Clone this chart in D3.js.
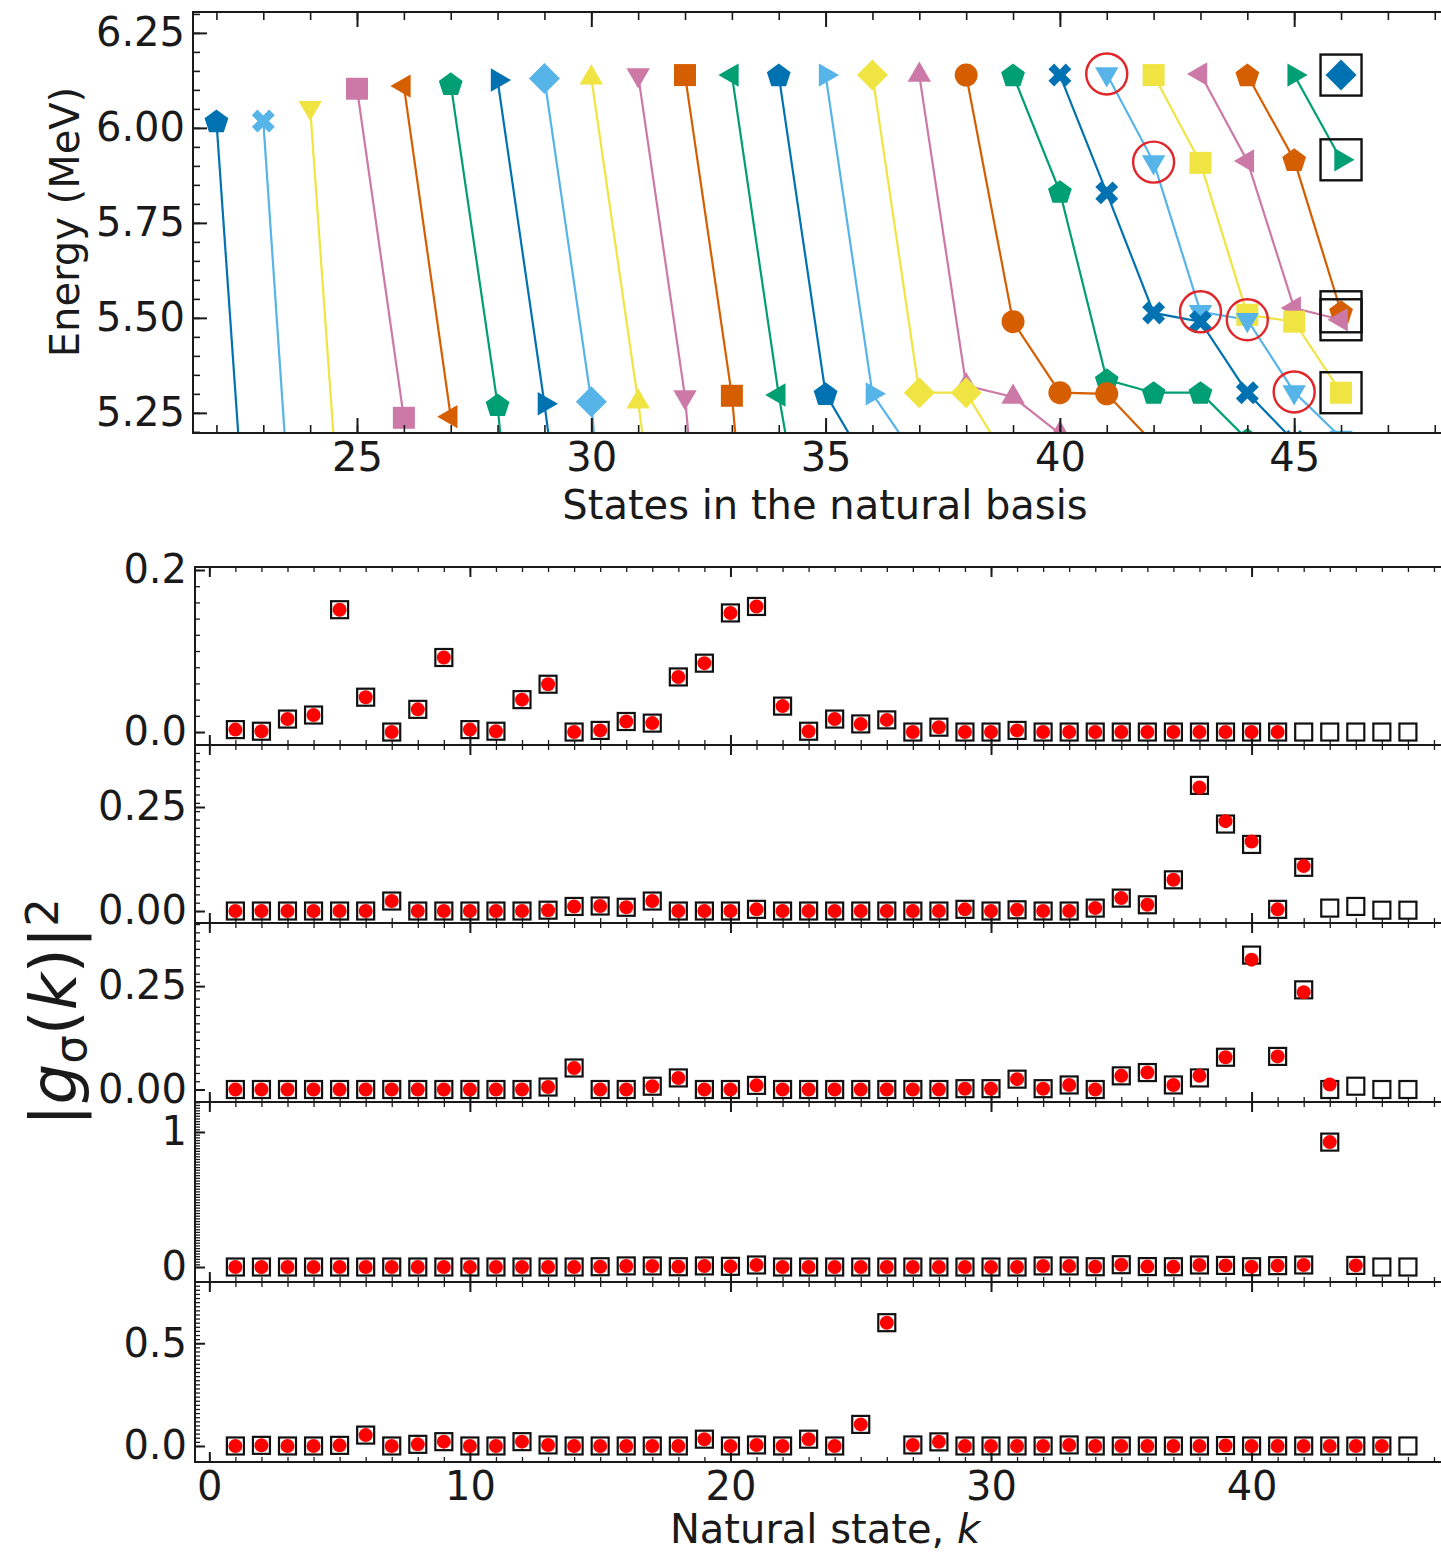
<!DOCTYPE html>
<html>
<head>
<meta charset="utf-8">
<script src="https://cdn.jsdelivr.net/npm/d3@7"></script>
<style>
  html, body { margin: 0; background: #fff; }
  svg { display: block; font-family: "DejaVu Sans", sans-serif; }
</style>
</head>
<body>
<svg id="chart" width="1441" height="1553"></svg>
<script>
// ---------------- Energy levels vs. natural-basis states ----------------
// Each level starts at a state and its energy is followed state by state to the right.
const levelStartState = [22, 23, 24, 25, 26, 27, 28, 29, 30, 31, 32, 33, 34,
                         35, 36, 37, 38, 39, 40, 41, 42, 43, 44, 45, 46];
const levelEnergies = [
  [6.018, 4.25],
  [6.018, 4.21],
  [6.053, 4.32],
  [6.103, 5.237],
  [6.110, 5.240],
  [6.116, 5.271, 3.93],
  [6.126, 5.274, 4.34],
  [6.130, 5.279, 3.80],
  [6.132, 5.279, 4.35],
  [6.139, 5.292, 3.90],
  [6.139, 5.295, 3.94],
  [6.139, 5.297, 4.59],
  [6.139, 5.300, 5.09],
  [6.139, 5.300, 5.12],
  [6.139, 5.303, 5.303, 5.10],
  [6.139, 5.322, 5.292, 5.195],
  [6.139, 5.490, 5.303, 5.300, 5.17],
  [6.139, 5.832, 5.337, 5.303, 5.303, 5.18],
  [6.139, 5.829, 5.513, 5.490, 5.303, 5.175],
  [6.142, 5.910, 5.516, 5.495, 5.305, 5.185],
  [6.139, 5.908, 5.508, 5.490, 5.303],
  [6.142, 5.913, 5.526, 5.495],
  [6.139, 5.916, 5.516],
  [6.139, 5.916],
  [6.139]
];
const levelMarkers = ["pentagon", "x", "triDown", "square", "triLeft", "pentagon",
  "triRight", "diamond", "triUp", "triDown", "square", "triLeft", "pentagon",
  "triRight", "diamond", "triUp", "circle", "pentagon", "x", "triDown", "square",
  "triLeft", "pentagon", "triRight", "diamond"];
const palette = ["#0072B2", "#56B4E9", "#F0E442", "#CC79A7", "#D55E00", "#009E73"];
const ringedLevelStart = 41;   // level whose points are ringed in red
const boxedState = 46;         // state whose points are boxed
const energyTicks = [5.25, 5.50, 5.75, 6.00, 6.25];
const stateTicks = [25, 30, 35, 40, 45];

// ---------------- |g_sigma(k)|^2 for five eigenstates ----------------
// exactN: open squares (k = 1..46); approxN: red dots (k = 1..len)
const exact1 = [0.003, 0.001, 0.016, 0.021, 0.151, 0.043, 0.000, 0.028, 0.092, 0.003,
                0.001, 0.040, 0.059, 0.000, 0.002, 0.013, 0.011, 0.068, 0.085, 0.147,
                0.155, 0.032, 0.001, 0.016, 0.010, 0.015, 0.000, 0.006, 0.000, 0.000,
                0.002, 0.000, 0.000, 0.000, 0.000, 0.000, 0.000, 0.000, 0.000, 0.000,
                0.000, 0.000, 0.000, 0.000, 0.000, 0.000];
const approx1 = [0.003, 0.001, 0.016, 0.021, 0.151, 0.043, 0.000, 0.028, 0.092, 0.003,
                 0.001, 0.040, 0.059, 0.000, 0.002, 0.013, 0.011, 0.068, 0.085, 0.147,
                 0.155, 0.032, 0.001, 0.016, 0.010, 0.015, 0.000, 0.006, 0.000, 0.000,
                 0.002, 0.000, 0.000, 0.000, 0.000, 0.000, 0.000, 0.000, 0.000, 0.000,
                 0.000];
const exact2 = [0, 0, 0, 0, 0, 0, 0.024, 0, 0, 0,
                0, 0, 0.002, 0.011, 0.012, 0.009, 0.024, 0, 0, 0,
                0.004, 0, 0, 0, 0, 0, 0, 0, 0.004, 0,
                0.003, 0, 0, 0.007, 0.031, 0.015, 0.075, 0.302, 0.209, 0.160,
                0.004, 0.105, 0.007, 0.011, 0.002, 0.002];
const approx2 = [0, 0, 0, 0, 0, 0, 0.024, 0, 0, 0,
                 0, 0, 0.002, 0.011, 0.012, 0.009, 0.024, 0, 0, 0,
                 0.004, 0, 0, 0, 0, 0, 0, 0, 0.004, 0,
                 0.003, 0, 0, 0.007, 0.031, 0.015, 0.075, 0.297, 0.216, 0.167,
                 0.004, 0.108];
const exact3 = [0, 0, 0, 0, 0, 0, 0, 0, 0, 0,
                0, 0, 0.006, 0.052, 0, 0, 0.008, 0.028, 0, 0,
                0.010, 0, 0, 0, 0, 0, 0, 0, 0.002, 0.002,
                0.025, 0.002, 0.011, 0, 0.033, 0.041, 0.011, 0.028, 0.078, 0.325,
                0.080, 0.241, 0.000, 0.008, 0, 0];
const approx3 = [0, 0, 0, 0, 0, 0, 0, 0, 0, 0,
                 0, 0, 0.006, 0.052, 0, 0, 0.008, 0.028, 0, 0,
                 0.010, 0, 0, 0, 0, 0, 0, 0, 0.002, 0.002,
                 0.025, 0.002, 0.011, 0, 0.033, 0.041, 0.011, 0.033, 0.078, 0.314,
                 0.080, 0.235, 0.012];
const exact4 = [0, 0, 0, 0, 0, 0, 0, 0, 0, 0,
                0, 0, 0, 0, 0.002, 0.008, 0.008, 0.002, 0.008, 0.005,
                0.015, 0, 0, 0, 0, 0, 0, 0, 0, 0,
                0, 0.008, 0.008, 0.002, 0.017, 0.003, 0.002, 0.015, 0.012, 0.002,
                0.010, 0.015, 0.925, 0.012, 0, 0];
const approx4 = [0, 0, 0, 0, 0, 0, 0, 0, 0, 0,
                 0, 0, 0, 0, 0.002, 0.008, 0.008, 0.002, 0.008, 0.005,
                 0.015, 0, 0, 0, 0, 0, 0, 0, 0, 0,
                 0, 0.008, 0.008, 0.002, 0.017, 0.003, 0.002, 0.015, 0.012, 0.002,
                 0.010, 0.015, 0.925, 0.012];
const exact5 = [0, 0.003, 0, 0, 0.003, 0.053, 0, 0.008, 0.021, 0,
                0, 0.021, 0.005, 0, 0, 0, 0, 0, 0.033, 0,
                0.005, 0, 0.033, 0, 0.105, 0.600, 0.005, 0.020, 0, 0,
                0, 0, 0.005, 0, 0, 0, 0, 0, 0.002, 0,
                0, 0, 0, 0, 0, 0];
const approx5 = [0, 0.003, 0, 0, 0.003, 0.053, 0, 0.008, 0.021, 0,
                 0, 0.021, 0.005, 0, 0, 0, 0, 0, 0.033, 0,
                 0.005, 0, 0.033, 0, 0.105, 0.600, 0.005, 0.020, 0, 0,
                 0, 0, 0.005, 0, 0, 0, 0, 0, 0.002, 0,
                 0, 0, 0, 0, 0];
const panelTickValues = [[0, 0.2], [0, 0.25], [0, 0.25], [0, 1], [0, 0.5]];
const panelTickLabels = [["0.0", "0.2"], ["0.00", "0.25"], ["0.00", "0.25"], ["0", "1"], ["0.0", "0.5"]];
const kTicks = [0, 10, 20, 30, 40];

// ---------------- drawing ----------------
const svg = d3.select("#chart");
const INK = "#1a1a1a";
const FONT = 40;

function styleAxis(g, width) {
  g.select(".domain").remove();
  g.selectAll(".tick line").attr("stroke", INK).attr("stroke-width", width);
  g.selectAll(".tick text").attr("fill", INK).style("font-size", FONT + "px")
    .style("font-family", '"DejaVu Sans", sans-serif');
}

function markerPath(type) {
  const p = d3.path();
  const poly = pts => { pts.forEach((q, i) => i ? p.lineTo(q[0], q[1]) : p.moveTo(q[0], q[1])); p.closePath(); };
  const tri = deg => d3.range(3).map(i => {
    const a = (deg + i * 120) * Math.PI / 180;
    return [13.5 * Math.cos(a), 13.5 * Math.sin(a)];
  });
  switch (type) {
    case "pentagon":
      poly(d3.range(5).map(i => {
        const a = -Math.PI / 2 + i * 2 * Math.PI / 5;
        return [12.5 * Math.cos(a), 12.5 * Math.sin(a) + 1];
      }));
      break;
    case "square": poly([[-11, -11], [11, -11], [11, 11], [-11, 11]]); break;
    case "diamond": poly([[0, -15.5], [15.5, 0], [0, 15.5], [-15.5, 0]]); break;
    case "circle": p.moveTo(11.5, 0); p.arc(0, 0, 11.5, 0, 2 * Math.PI); break;
    case "triUp": poly(tri(-90)); break;
    case "triDown": poly(tri(90)); break;
    case "triLeft": poly(tri(180)); break;
    case "triRight": poly(tri(0)); break;
    case "x": {
      const L = 12.2, w = 4;
      const plus = [[-w, -L], [w, -L], [w, -w], [L, -w], [L, w], [w, w], [w, L], [-w, L],
                    [-w, w], [-L, w], [-L, -w], [-w, -w]];
      const c = Math.SQRT1_2;
      poly(plus.map(([x, y]) => [c * (x - y), c * (x + y)]));
      break;
    }
  }
  return p.toString();
}

// ===== Top chart =====
const frameE = { left: 193, right: 1446, top: 12, bottom: 433 };
const xE = d3.scaleLinear().domain([21.5, 48.24]).range([frameE.left, frameE.right]);
const yE = d3.scaleLinear().domain([5.197, 6.305]).range([frameE.bottom, frameE.top]);
const inView = p => p.energy >= yE.domain()[0] && p.energy <= yE.domain()[1];

svg.append("defs").append("clipPath").attr("id", "clipTop")
  .append("rect").attr("x", frameE.left).attr("y", frameE.top)
  .attr("width", frameE.right - frameE.left).attr("height", frameE.bottom - frameE.top);

const levels = levelStartState.map((s, i) => ({
  start: s,
  color: palette[i % palette.length],
  marker: levelMarkers[i],
  points: levelEnergies[i].map((e, j) => ({ state: s + j, energy: e }))
}));

const plotTop = svg.append("g").attr("clip-path", "url(#clipTop)");
const line = d3.line().x(d => xE(d.state)).y(d => yE(d.energy));
const drawOrder = levels.slice().reverse();

plotTop.selectAll("path.level").data(drawOrder).join("path")
  .attr("class", "level")
  .attr("d", d => line(d.points))
  .attr("fill", "none").attr("stroke", d => d.color).attr("stroke-width", 2.2);

drawOrder.forEach(lv => {
  plotTop.append("g").selectAll("path").data(lv.points).join("path")
    .attr("transform", d => `translate(${xE(d.state)},${yE(d.energy)})`)
    .attr("d", markerPath(lv.marker))
    .attr("fill", lv.color);
});

// rings around the tracked level
const ringed = levels.find(l => l.start === ringedLevelStart).points.filter(inView);
plotTop.selectAll("circle.ring").data(ringed).join("circle")
  .attr("class", "ring")
  .attr("cx", d => xE(d.state)).attr("cy", d => yE(d.energy)).attr("r", 20.5)
  .attr("fill", "none").attr("stroke", "#e0262a").attr("stroke-width", 2.4);

// boxes around every point at the last state
const boxed = levels.flatMap(l => l.points.filter(p => p.state === boxedState && inView(p)));
plotTop.selectAll("rect.box").data(boxed).join("rect")
  .attr("class", "box")
  .attr("x", d => xE(d.state) - 20.5).attr("y", d => yE(d.energy) - 20.5)
  .attr("width", 41).attr("height", 41)
  .attr("fill", "none").attr("stroke", "#111").attr("stroke-width", 2.4);

// axes of the top chart
const stateMinor = d3.range(22, 49);
const energyMinor = d3.range(5.20, 6.31, 0.05);

const gxb = svg.append("g").attr("transform", `translate(0,${frameE.bottom})`);
gxb.call(d3.axisBottom(xE).tickValues(stateMinor).tickSize(-8).tickFormat(""));
styleAxis(gxb, 1.6);
const gxbM = svg.append("g").attr("transform", `translate(0,${frameE.bottom})`);
gxbM.call(d3.axisBottom(xE).tickValues(stateTicks).tickSize(-15).tickPadding(10).tickFormat(d3.format("d")));
styleAxis(gxbM, 2);

const gxt = svg.append("g").attr("transform", `translate(0,${frameE.top})`);
gxt.call(d3.axisTop(xE).tickValues(stateMinor).tickSize(-8).tickFormat(""));
styleAxis(gxt, 1.6);
const gxtM = svg.append("g").attr("transform", `translate(0,${frameE.top})`);
gxtM.call(d3.axisTop(xE).tickValues(stateTicks).tickSize(-15).tickFormat(""));
styleAxis(gxtM, 2);

const gyl = svg.append("g").attr("transform", `translate(${frameE.left},0)`);
gyl.call(d3.axisLeft(yE).tickValues(energyMinor).tickSize(-7).tickFormat(""));
styleAxis(gyl, 1.6);
const gylM = svg.append("g").attr("transform", `translate(${frameE.left},0)`);
gylM.call(d3.axisLeft(yE).tickValues(energyTicks).tickSize(-14).tickPadding(8).tickFormat(d3.format(".2f")));
styleAxis(gylM, 2);

svg.append("rect").attr("x", frameE.left).attr("y", frameE.top)
  .attr("width", frameE.right - frameE.left).attr("height", frameE.bottom - frameE.top)
  .attr("fill", "none").attr("stroke", INK).attr("stroke-width", 2);

svg.append("text").attr("x", 825).attr("y", 519)
  .attr("text-anchor", "middle").style("font-size", FONT + "px").attr("fill", INK)
  .text("States in the natural basis");
svg.append("text").attr("transform", "translate(79,222) rotate(-90)")
  .attr("text-anchor", "middle").style("font-size", FONT + "px").attr("fill", INK)
  .text("Energy (MeV)");

// ===== Bottom stacked panels =====
const xK = d3.scaleLinear().domain([-0.55, 47.5]).range([195, 1447]);
const panelBounds = [[567, 745], [745, 923], [923, 1102], [1102, 1282], [1282, 1462]];
const panelDomains = [[-0.016, 0.2037], [-0.0288, 0.399], [-0.0302, 0.4026], [-0.111, 1.222], [-0.078, 0.798]];
const exactSets = [exact1, exact2, exact3, exact4, exact5];
const approxSets = [approx1, approx2, approx3, approx4, approx5];
const kMinor = d3.range(0, 48);

panelBounds.forEach(([y0, y1], i) => {
  const yP = d3.scaleLinear().domain(panelDomains[i]).range([y1, y0]);
  const g = svg.append("g");
  const left = xK.range()[0], right = xK.range()[1];

  // y ticks
  const minor = d3.range(0, panelDomains[i][1] + 1e-9, 0.02);
  const gl = g.append("g").attr("transform", `translate(${left},0)`);
  gl.call(d3.axisLeft(yP).tickValues(minor).tickSize(-5).tickFormat(""));
  styleAxis(gl, 1.3);
  const glM = g.append("g").attr("transform", `translate(${left},0)`);
  glM.call(d3.axisLeft(yP).tickValues(panelTickValues[i]).tickSize(-10).tickPadding(8)
    .tickFormat((d, j) => panelTickLabels[i][j]));
  styleAxis(glM, 2);

  // x ticks on both horizontal spines
  [[y1, d3.axisBottom], [y0, d3.axisTop]].forEach(([yy, ax], side) => {
    const gm = g.append("g").attr("transform", `translate(0,${yy})`);
    gm.call(ax(xK).tickValues(kMinor).tickSize(-5).tickFormat(""));
    styleAxis(gm, 1.3);
    const gM = g.append("g").attr("transform", `translate(0,${yy})`);
    const showLabels = side === 0 && i === panelBounds.length - 1;
    gM.call(ax(xK).tickValues(kTicks).tickSize(-10).tickPadding(10)
      .tickFormat(showLabels ? d3.format("d") : ""));
    styleAxis(gM, 2);
  });

  g.append("rect").attr("x", left).attr("y", y0)
    .attr("width", right - left).attr("height", y1 - y0)
    .attr("fill", "none").attr("stroke", INK).attr("stroke-width", 2);

  const sq = exactSets[i].map((v, j) => ({ k: j + 1, v }));
  const dots = approxSets[i].map((v, j) => ({ k: j + 1, v }));
  g.selectAll("rect.sq").data(sq).join("rect").attr("class", "sq")
    .attr("x", d => xK(d.k) - 8.5).attr("y", d => yP(d.v) - 8.5)
    .attr("width", 17).attr("height", 17)
    .attr("fill", "none").attr("stroke", "#111").attr("stroke-width", 2.2);
  g.selectAll("circle.dot").data(dots).join("circle").attr("class", "dot")
    .attr("cx", d => xK(d.k)).attr("cy", d => yP(d.v)).attr("r", 7)
    .attr("fill", "#ff0000");
});

svg.append("text").attr("x", 825).attr("y", 1543)
  .attr("text-anchor", "middle").style("font-size", FONT + "px").attr("fill", INK)
  .call(t => {
    t.append("tspan").text("Natural state, ");
    t.append("tspan").style("font-style", "italic").text("k");
  });

const yl = svg.append("text").attr("transform", "translate(76,1012) rotate(-90)")
  .attr("text-anchor", "middle").style("font-size", "64px").attr("fill", INK);
yl.append("tspan").text("|");
yl.append("tspan").style("font-style", "italic").text("g");
yl.append("tspan").attr("baseline-shift", "-22%").style("font-size", "45px").text("σ");
yl.append("tspan").text("(");
yl.append("tspan").style("font-style", "italic").text("k");
yl.append("tspan").text(")|");
yl.append("tspan").attr("baseline-shift", "40%").style("font-size", "45px").text("2");
</script>
</body>
</html>
